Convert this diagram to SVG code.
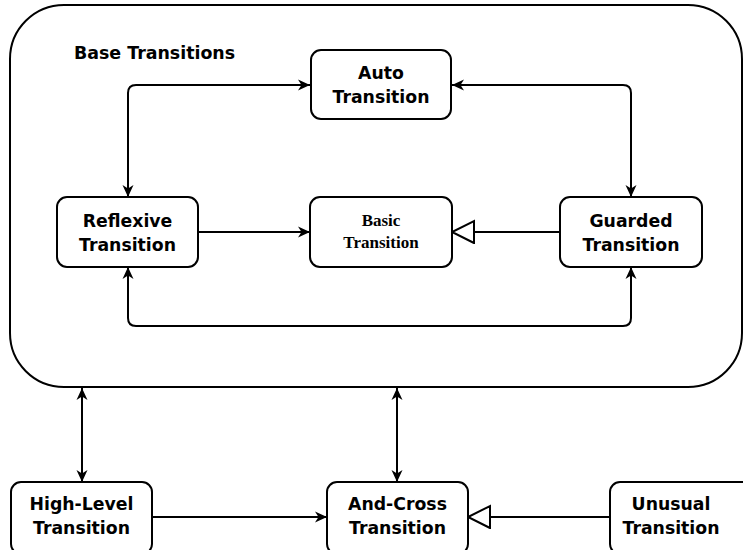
<svg xmlns="http://www.w3.org/2000/svg" width="743" height="550" viewBox="0 0 743 550">
  <style>
    .box { fill: #ffffff; stroke: #000000; stroke-width: 2; }
    .lbl { font-family: "DejaVu Sans", Verdana, sans-serif; font-weight: bold; font-size: 17.3px; fill: #000000; text-anchor: middle; }
    .serif { font-family: "Liberation Serif", "Times New Roman", serif; font-weight: bold; font-size: 17px; fill: #000000; text-anchor: middle; }
    .title { font-family: "DejaVu Sans", Verdana, sans-serif; font-weight: bold; font-size: 17.4px; fill: #000000; }
    .edge { fill: none; stroke: #000000; stroke-width: 2; }
  </style>
  <defs>
    <marker id="arrow" markerUnits="userSpaceOnUse" markerWidth="14" markerHeight="12" refX="12" refY="6" orient="auto-start-reverse">
      <path d="M0,0.5 L12,6 L0,11.5 L3.5,6 Z" fill="#000000"/>
    </marker>
    <marker id="hollow" markerUnits="userSpaceOnUse" markerWidth="26" markerHeight="26" refX="23" refY="12" orient="auto">
      <path d="M1,1 L23,12 L1,23 Z" fill="#ffffff" stroke="#000000" stroke-width="2"/>
    </marker>
  </defs>

  <!-- container -->
  <g id="base-transitions">
    <rect class="box" x="10" y="5" width="732" height="382" rx="54" ry="54"/>
    <text class="title" x="74" y="59">Base Transitions</text>
  </g>

  <g id="connectors">
    <path class="edge" d="M128,197 V93 Q128,85 136,85 H310" marker-start="url(#arrow)" marker-end="url(#arrow)"/>
    <path class="edge" d="M452,85 H623 Q631,85 631,93 V197" marker-start="url(#arrow)" marker-end="url(#arrow)"/>
    <path class="edge" d="M128,267 V318 Q128,326 136,326 H623 Q631,326 631,318 V267" marker-start="url(#arrow)" marker-end="url(#arrow)"/>
    <path class="edge" d="M198,232 H310" marker-end="url(#arrow)"/>
    <path class="edge" d="M560,232 H452" marker-end="url(#hollow)"/>
    <path class="edge" d="M82,388 V482" marker-start="url(#arrow)" marker-end="url(#arrow)"/>
    <path class="edge" d="M397,388 V482" marker-start="url(#arrow)" marker-end="url(#arrow)"/>
    <path class="edge" d="M152,517 H327" marker-end="url(#arrow)"/>
    <path class="edge" d="M610,517 H468" marker-end="url(#hollow)"/>
  </g>

  <g id="auto">
    <rect class="box" x="311" y="50" width="140" height="69" rx="10"/>
    <text class="lbl" x="381" y="79">Auto</text>
    <text class="lbl" x="381" y="103">Transition</text>
  </g>

  <g id="reflexive">
    <rect class="box" x="57" y="197" width="141" height="70" rx="10"/>
    <text class="lbl" x="127.5" y="227">Reflexive</text>
    <text class="lbl" x="127.5" y="251">Transition</text>
  </g>

  <g id="basic">
    <rect class="box" x="310" y="197" width="142" height="70" rx="10"/>
    <text class="serif" x="381" y="226">Basic</text>
    <text class="serif" x="381" y="247.5">Transition</text>
  </g>

  <g id="guarded">
    <rect class="box" x="560" y="197" width="142" height="70" rx="10"/>
    <text class="lbl" x="631" y="227">Guarded</text>
    <text class="lbl" x="631" y="251">Transition</text>
  </g>

  <g id="high-level">
    <rect class="box" x="11" y="482" width="141" height="72" rx="10"/>
    <text class="lbl" x="81.5" y="510">High-Level</text>
    <text class="lbl" x="81.5" y="534">Transition</text>
  </g>

  <g id="and-cross">
    <rect class="box" x="327" y="482" width="141" height="72" rx="10"/>
    <text class="lbl" x="397.5" y="510">And-Cross</text>
    <text class="lbl" x="397.5" y="534">Transition</text>
  </g>

  <g id="unusual">
    <rect class="box" x="610" y="482" width="142" height="72" rx="10"/>
    <text class="lbl" x="671" y="510">Unusual</text>
    <text class="lbl" x="671" y="534">Transition</text>
  </g>
</svg>
